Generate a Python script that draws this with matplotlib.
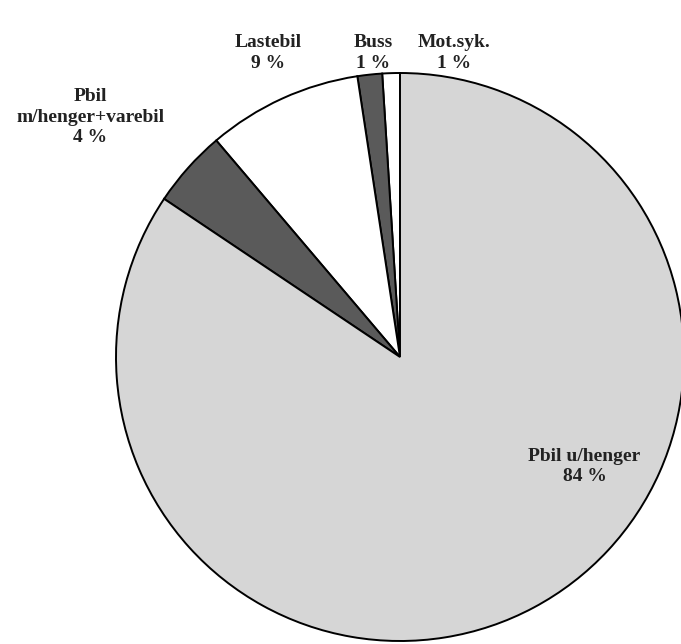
"""
pie chart: share of vehicle types
"""

import matplotlib
matplotlib.use("Agg")
import matplotlib.pyplot as plt

# Data, counter-clockwise from 12 o'clock
categories = ["Mot.syk.", "Buss", "Lastebil", "Pbil\nm/henger+varebil", "Pbil u/henger"]
shares = [1.0, 1.4, 8.8, 4.4, 84.4]

colors = ["white", "#5a5a5a", "white", "#5a5a5a", "#d6d6d6"]

# label anchors (axes data coords, pie radius = 1)
label_pos = [(0.19, 1.07), (-0.095, 1.07), (-0.465, 1.07), (-1.09, 0.845), (0.65, -0.385)]

plt.rcParams['font.family'] = ['Liberation Serif', 'DejaVu Serif']

fig = plt.figure(figsize=(6.81, 6.44), dpi=100)
ax = fig.add_axes([116 / 681, 3 / 644, 568 / 681, 568 / 644])

wedges, _ = ax.pie(shares, colors=colors, startangle=90, counterclock=True,
                   radius=1.0, center=(0, 0),
                   wedgeprops=dict(edgecolor="black", linewidth=1.4))

ax.set_xlim(-1, 1)
ax.set_ylim(-1, 1)
ax.set_aspect("auto")
ax.axis("off")

for name, val, (x, y) in zip(categories, shares, label_pos):
    ax.text(x, y, f"{name}\n{round(val):d} %", ha="center", va="center",
            fontsize=14, fontweight="bold", color="#222222",
            linespacing=1.25, clip_on=False)

fig.savefig("out.png", dpi=100, facecolor="white")
